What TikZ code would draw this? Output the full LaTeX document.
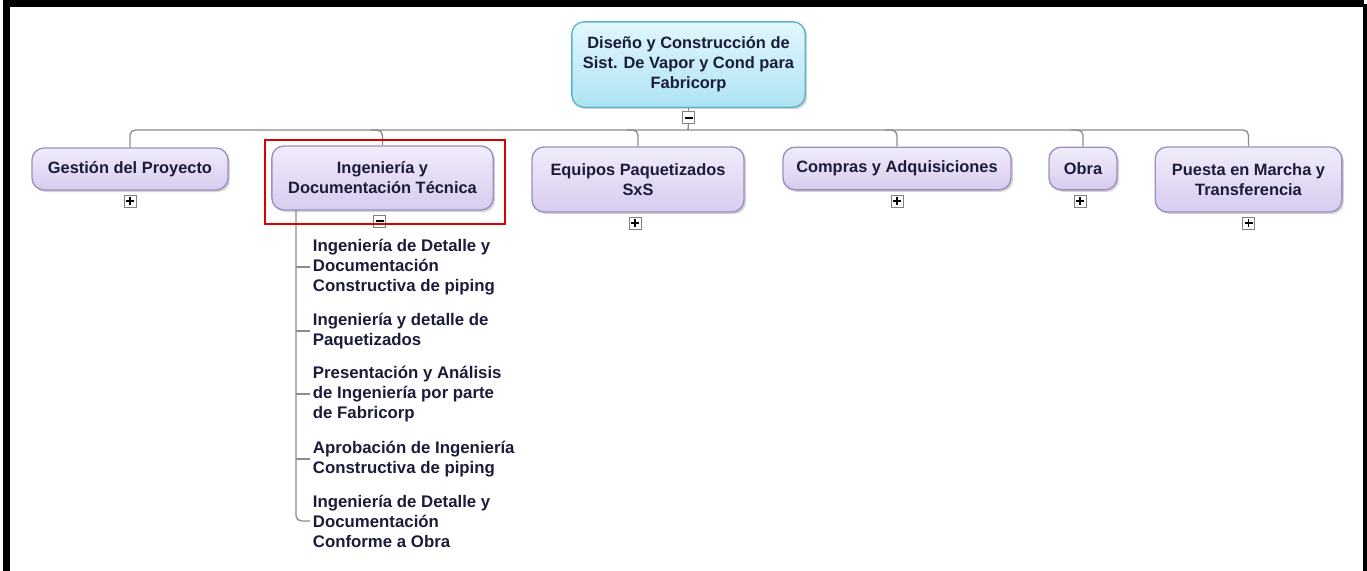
\documentclass[tikz,border=0pt]{standalone}
\usepackage{fontspec}
\setmainfont{Liberation Sans}
\usetikzlibrary{positioning,shadows}

\definecolor{wbstext}{HTML}{1B1B3A}
\definecolor{wbsline}{HTML}{8C8C8C}
\definecolor{lavtop}{HTML}{F1ECFA}
\definecolor{lavbot}{HTML}{D7CCEE}
\definecolor{lavedge}{HTML}{9C8DC2}
\definecolor{cyantop}{HTML}{E2F7FC}
\definecolor{cyanbot}{HTML}{AEE3F3}
\definecolor{cyanedge}{HTML}{5AB4C8}

\tikzset{
  wbsbox/.style={draw=lavedge, line width=1pt, rounded corners=9pt, top color=lavtop, bottom color=lavbot,
    drop shadow={shadow xshift=1.5pt, shadow yshift=-1.5pt, opacity=0.35},
    align=center, text=wbstext, font=\bfseries\fontsize{12.3}{15}\selectfont, inner sep=2pt},
  rootbox/.style={wbsbox, draw=cyanedge, top color=cyantop, bottom color=cyanbot},
  subitem/.style={anchor=west, align=left, text=wbstext, font=\bfseries\fontsize{12.6}{15}\selectfont, inner sep=2pt},
  togglebox/.style={draw=gray, fill=white, line width=0.6pt, minimum size=9pt, inner sep=0pt},
  plusbox/.style={togglebox, path picture={
      \draw[black, line width=1.4pt] ([xshift=-3pt]path picture bounding box.center) -- ([xshift=3pt]path picture bounding box.center);
      \draw[black, line width=1.4pt] ([yshift=-3pt]path picture bounding box.center) -- ([yshift=3pt]path picture bounding box.center);}},
  minusbox/.style={togglebox, path picture={
      \draw[black, line width=1.4pt] ([xshift=-3pt]path picture bounding box.center) -- ([xshift=3pt]path picture bounding box.center);}},
  conn/.style={draw=wbsline, line width=1pt, rounded corners=4pt},
}

\begin{document}
\begin{tikzpicture}[x=0.75pt, y=-0.75pt]
  \useasboundingbox (0,0) rectangle (1367,571);
  % frame
  \draw[line width=5.5pt] (6.5,571) -- (6.5,3.5) -- (1364,3.5);
  \draw[line width=3.5pt] (1365,3.5) -- (1365,571);

  % root and level 1
  \node[rootbox, minimum width=175pt, minimum height=64pt] (root) at (688.5,64.5)
    {Diseño y Construcción de\\Sist. De Vapor y Cond para\\Fabricorp};
  \node[wbsbox, minimum width=147pt, minimum height=31.5pt] (gestion) at (130,169) {Gestión del Proyecto};
  \node[wbsbox, minimum width=166pt, minimum height=48pt] (ing) at (382.5,178) {Ingeniería y\\Documentación Técnica};
  \node[wbsbox, minimum width=159pt, minimum height=48.75pt] (equipos) at (638,179.5) {Equipos Paquetizados\\SxS};
  \node[wbsbox, minimum width=171pt, minimum height=32pt] (compras) at (897,168.5) {Compras y Adquisiciones};
  \node[wbsbox, minimum width=51pt, minimum height=32pt] (obra) at (1083,168.5) {Obra};
  \node[wbsbox, minimum width=140pt, minimum height=48.75pt] (puesta) at (1248.5,179.5) {Puesta en Marcha y\\Transferencia};

  % toggles
  \node[minusbox, below=2.5pt of root] (roottoggle) {};
  \node[plusbox, below=3pt of gestion] (gestiontoggle) {};
  \node[minusbox, below=3pt of ing, xshift=-2pt] (ingtoggle) {};
  \node[plusbox, below=3pt of equipos, xshift=-2pt] (equipostoggle) {};
  \node[plusbox, below=3pt of compras] (comprastoggle) {};
  \node[plusbox, below=3pt of obra, xshift=-2pt] (obratoggle) {};
  \node[plusbox, below=3pt of puesta] (puestatoggle) {};

  % connectors level 1
  \coordinate (bar) at (688,130);
  \draw[conn] (root.south) -- (roottoggle.north);
  \draw[conn] (roottoggle.south) -- (bar);
  \draw[conn] (gestion.north) |- (bar) -| (puesta.north);
  \draw[conn] (bar -| ing.north) ++(-12,0) -| (ing.north);
  \draw[conn] (bar -| equipos.north) ++(-12,0) -| (equipos.north);
  \draw[conn] (bar -| compras.north) ++(-12,0) -| (compras.north);
  \draw[conn] (bar -| obra.north) ++(-12,0) -| (obra.north);

  % level 2 under Ingenieria
  \node[subitem] (sub1) at (310,267) {Ingeniería de Detalle y\\Documentación\\Constructiva de piping};
  \node[subitem] (sub2) at (310,331) {Ingeniería y detalle de\\Paquetizados};
  \node[subitem] (sub3) at (310,394) {Presentación y Análisis\\de Ingeniería por parte\\de Fabricorp};
  \node[subitem] (sub4) at (310,459) {Aprobación de Ingeniería\\Constructiva de piping};
  \node[subitem] (sub5) at (310,521) {Ingeniería de Detalle y\\Documentación\\Conforme a Obra};

  \coordinate (subline) at (296,210);
  \draw[conn] (subline) |- (sub5.west);
  \foreach \s in {sub1,sub2,sub3,sub4}
    \draw[conn] (subline |- \s.west) -- (\s.west);

  % highlight
  \draw[red!85!black, line width=1pt] (265,140) rectangle (505,224);
\end{tikzpicture}
\end{document}
